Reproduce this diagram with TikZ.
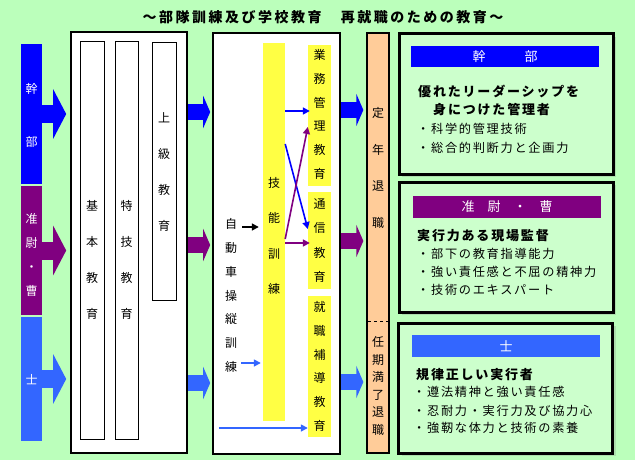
\documentclass[tikz,border=0pt]{standalone}
\usepackage{fontspec}
\setmainfont{Noto Sans CJK JP}
\newfontfamily\spaced[LetterSpace=14]{Noto Sans CJK JP}
\newfontfamily\titlefont[LetterSpace=18]{Noto Sans CJK JP}
\usetikzlibrary{arrows.meta,shadows}
\definecolor{bgc}{HTML}{BBFFBB}
\definecolor{boxc}{HTML}{CCFFCC}
\definecolor{kanbuc}{HTML}{0000FF}
\definecolor{junc}{HTML}{800080}
\definecolor{shic}{HTML}{3366FF}
\definecolor{yelc}{HTML}{FFFF44}
\definecolor{salc}{HTML}{FFCC99}
\tikzset{
  rankbar/.style={rectangle,inner sep=0,minimum width=21},
  whitebox/.style={rectangle,draw,line width=1.6pt,fill=white,inner sep=0},
  colbox/.style={rectangle,draw,line width=0.8pt,fill=white,inner sep=0,minimum width=24},
  yelbox/.style={rectangle,fill=yelc,inner sep=0,minimum width=23},
  vtext/.style={inner sep=0,align=center,font=\fontsize{12}{#1}\selectfont},
  rbox/.style={rectangle,draw,line width=3pt,fill=boxc,inner sep=0,minimum width=214,
    drop shadow={shadow xshift=3pt,shadow yshift=-3pt,opacity=0.25}},
  hdr/.style={rectangle,inner sep=0,minimum width=188,minimum height=22,text=white,
    font=\fontsize{13}{13}\selectfont},
  lead/.style={anchor=west,inner sep=0,font=\fontsize{13}{13}\selectfont\spaced\bfseries},
  point/.style={anchor=west,inner sep=0,font=\fontsize{12.2}{12}\selectfont\spaced},
  fat/.style={line width=18pt,-{Triangle[length=13pt,width=49pt]}},
  midfat/.style={line width=16pt,-{Triangle[length=7pt,width=32pt]}},
  slimarrow/.style={line width=1.6pt,-{Triangle[length=7pt,width=7pt]}}
}
\begin{document}
\begin{tikzpicture}[x=1pt,y=-1pt]
\fill[bgc] (0,0) rectangle (635,460);
\useasboundingbox (0,0) rectangle (635,460);
\node[font=\fontsize{14}{14}\selectfont\titlefont\bfseries] (title) at (323,17) {～部隊訓練及び学校教育　再就職のための教育～};
% left ranks
\node[rankbar,fill=kanbuc,minimum height=140] (kanbu) at (31.5,114) {};
\node[rankbar,fill=junc,minimum height=129] (jun) at (31.5,250.5) {};
\node[rankbar,fill=shic,minimum height=124] (shi) at (31.5,379) {};
\node[vtext=53,text=white] (kanbut) at (31.5,115.5) {幹\\部};
\node[vtext=24,text=white] (junt) at (31.5,255) {准\\尉\\・\\曹};
\node[vtext=12,text=white] (shit) at (31.5,380) {士};
% unit training
\node[whitebox,minimum width=116,minimum height=421] (bigbox) at (129,242.5) {};
\node[colbox,minimum height=398] (kihon) at (92,240) {};
\node[colbox,minimum width=23,minimum height=398] (tokugi) at (126.5,240) {};
\node[colbox,minimum height=258] (jokyu) at (164,171) {};
\node[vtext=36] (kihont) at (92,259.5) {基\\本\\教\\育};
\node[vtext=36] (tokugit) at (126.5,259.5) {特\\技\\教\\育};
\node[vtext=36] (jokyut) at (164,172) {上\\級\\教\\育};
% school
\node[whitebox,minimum width=127,minimum height=421] (school) at (276.5,243.5) {};
\node[yelbox,minimum width=22,minimum height=378] (ginou) at (274,232) {};
\node[yelbox,minimum height=141] (gyomu) at (319.5,115.5) {};
\node[yelbox,minimum height=97] (tsushin) at (319.5,240.5) {};
\node[yelbox,minimum height=141] (shushoku) at (319.5,366.5) {};
\node[vtext=35.5] (ginout) at (274,236) {技\\能\\訓\\練};
\node[vtext=23.8] (gyomut) at (319.5,114.5) {業\\務\\管\\理\\教\\育};
\node[vtext=24.3] (tsushint) at (319.5,240.5) {通\\信\\教\\育};
\node[vtext=23.8] (shushokut) at (319.5,366.5) {就\\職\\補\\導\\教\\育};
\node[vtext=23.8] (jidou) at (231,295.5) {自\\動\\車\\操\\縦\\訓\\練};
% retirement
\node[rectangle,draw,line width=1.3pt,fill=salc,inner sep=0,minimum width=22,minimum height=420] (teinen) at (378,243) {};
\draw[dashed] ([xshift=2pt]teinen.west |- 0,321) -- ([xshift=-2pt]teinen.east |- 0,321);
\node[vtext=36.7] (teinent) at (378,168) {定\\年\\退\\職};
\node[vtext=17.6] (ninkit) at (378,386) {任\\期\\満\\了\\退\\職};
% goals
\node[rbox,minimum height=140] (box1) at (506,104) {};
\node[rbox,minimum height=130] (box2) at (506,247) {};
\node[rbox,minimum height=130] (box3) at (505.5,388) {};
\node[hdr,fill=kanbuc,minimum height=21] (hdr1) at (505,56.5) {幹　　　部};
\node[hdr,fill=junc] (hdr2) at (507,207) {准　尉　・　曹};
\node[hdr,fill=shic] (hdr3) at (506,346) {士};
\node[lead] (lead1a) at (418,91) {優れたリーダーシップを};
\node[lead] (lead1b) at (433,110) {身につけた管理者};
\node[point] (p1a) at (417,129) {・科学的管理技術};
\node[point] (p1b) at (417,148) {・総合的判断力と企画力};
\node[lead] (lead2) at (417,236) {実行力ある現場監督};
\node[point] (p2a) at (417,254) {・部下の教育指導能力};
\node[point] (p2b) at (417,272) {・強い責任感と不屈の精神力};
\node[point] (p2c) at (417,290) {・技術のエキスパート};
\node[lead] (lead3) at (416,375) {規律正しい実行者};
\node[point] (p3a) at (413,392) {・遵法精神と強い責任感};
\node[point] (p3b) at (413,411) {・忍耐力・実行力及び協力心};
\node[point] (p3c) at (413,428) {・強靭な体力と技術の素養};
% fat arrows
\draw[fat,kanbuc] (kanbu.east) -- ([xshift=-4pt]bigbox.west |- kanbu.east);
\draw[fat,junc] (jun.east) -- ([xshift=-4pt]bigbox.west |- jun.east);
\draw[fat,shic] (shi.east) -- ([xshift=-4pt]bigbox.west |- shi.east);
\draw[midfat,kanbuc] (bigbox.east |- 0,112) -- ([xshift=-2pt]school.west |- 0,112);
\draw[midfat,junc] (bigbox.east |- 0,245) -- ([xshift=-2pt]school.west |- 0,245);
\draw[midfat,shic] (bigbox.east |- 0,383) -- ([xshift=-2pt]school.west |- 0,383);
\draw[midfat,kanbuc] (school.east |- 0,110) -- ([xshift=-3pt]teinen.west |- 0,110);
\draw[midfat,junc] (school.east |- 0,241) -- ([xshift=-3pt]teinen.west |- 0,241);
\draw[midfat,shic] (school.east |- 0,382) -- ([xshift=-3pt]teinen.west |- 0,382);
% slim arrows
\draw[slimarrow] ([xshift=5pt]jidou.east |- 0,227) -- ([xshift=-4pt]ginou.west |- 0,227);
\draw[slimarrow,shic] ([xshift=4pt]jidou.east |- 0,363) -- ([xshift=-2pt]ginou.west |- 0,363);
\draw[slimarrow,shic] ([xshift=-6pt]jidou.west |- 0,428) -- (shushoku.west |- 0,428);
\draw[slimarrow,kanbuc] (ginou.east |- 0,111) -- ([xshift=2pt]gyomu.west |- 0,111);
\draw[slimarrow,junc] (ginou.east |- 0,243) -- ([xshift=2pt]tsushin.west |- 0,243);
\draw[slimarrow,kanbuc] (ginou.east |- 0,144) -- (tsushin.west |- 0,229);
\draw[slimarrow,junc] (ginou.east |- 0,239) -- (gyomu.west |- 0,127);
\end{tikzpicture}
\end{document}
